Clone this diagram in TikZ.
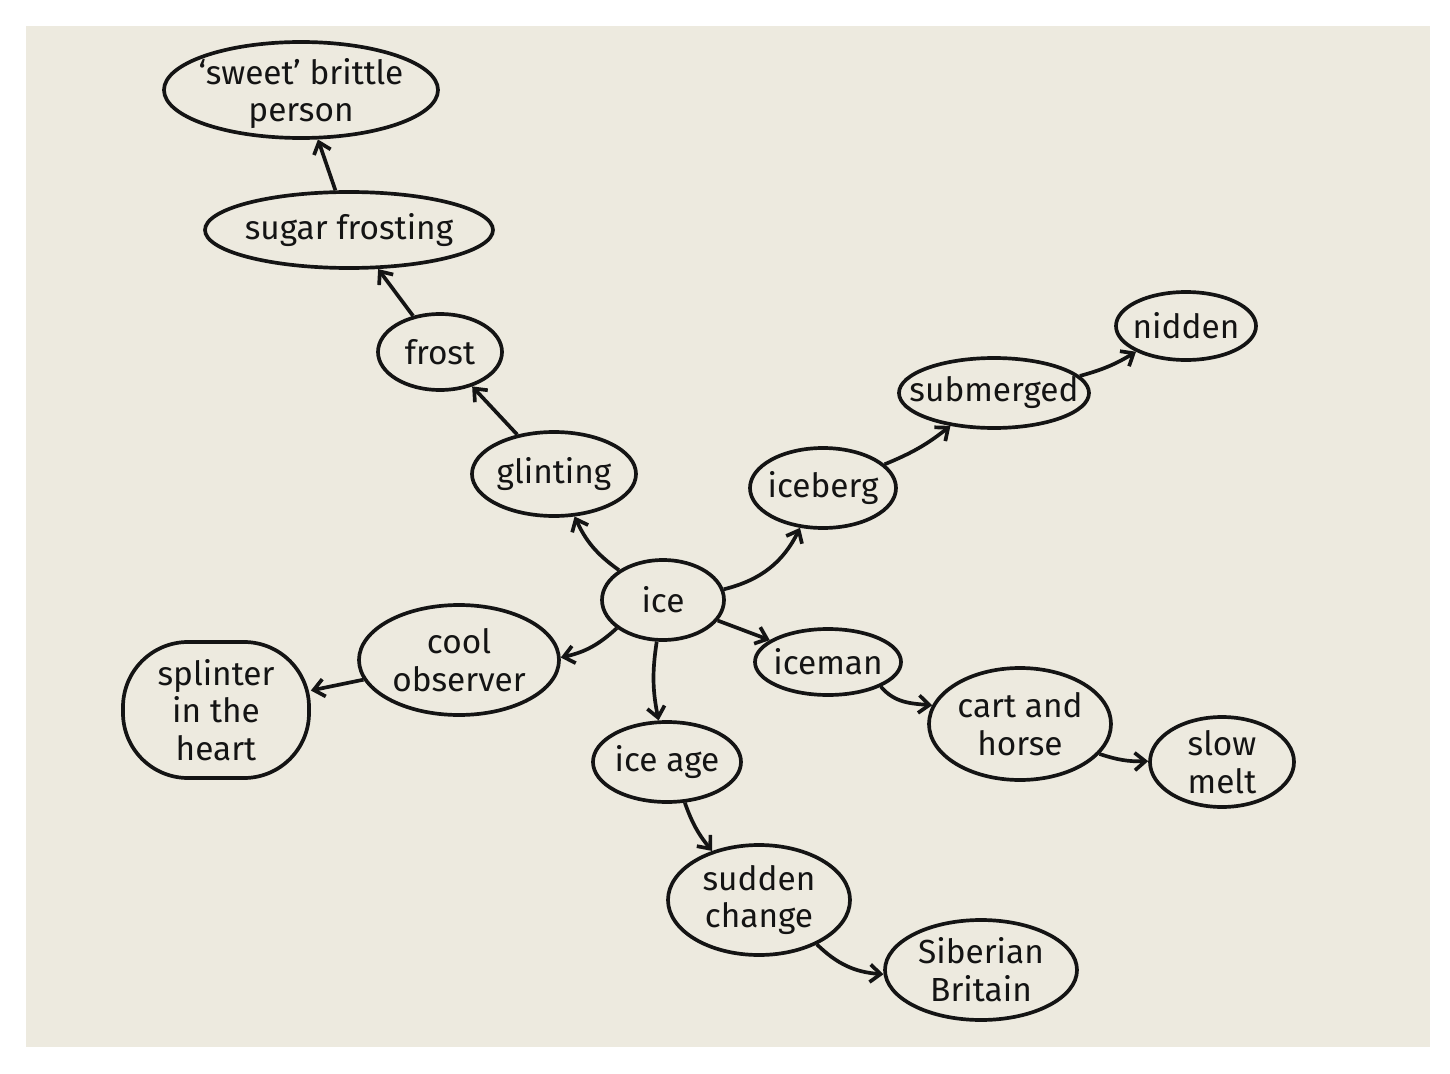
\documentclass[tikz,border=0pt]{standalone}
\usepackage{fontspec}
\setmainfont{Fira Sans}
\usepackage{xcolor}
\usepackage{tikz}
\usetikzlibrary{shapes.geometric, arrows.meta}
\definecolor{ink}{RGB}{20,20,20}
\definecolor{paper}{RGB}{237,234,223}
\newcommand{\hand}{\fontsize{19}{21.5}\selectfont}

\begin{document}
\begin{tikzpicture}[
  every node/.style={font=\hand},
  bubble/.style={ellipse, draw=ink, line width=2.1pt, inner sep=0pt},
  blob/.style={rectangle, draw=ink, line width=2.1pt, inner sep=0pt,
               rounded corners=1.3cm},
  word/.style={align=center, font=\hand, text=ink, inner sep=0pt},
  link/.style={-{Straight Barb[length=6pt, width=10pt]}, line width=2.1pt,
               draw=ink},
]
\useasboundingbox (0,0) rectangle (29,-21.48);
\fill[paper] (0.52,-0.52) rectangle (28.6,-20.94);

% Centre word
\node[bubble, minimum width=2.44cm, minimum height=1.6cm,
      label={[word]center:ice}] (ice) at (13.26,-12.00) {};

% Upper-left chain
\node[bubble, minimum width=3.28cm, minimum height=1.68cm,
      label={[word]center:glinting}] (glinting) at (11.08,-9.48) {};
\node[bubble, minimum width=2.48cm, minimum height=1.52cm,
      label={[word]center:frost}] (frost) at (8.80,-7.04) {};
\node[bubble, minimum width=5.76cm, minimum height=1.52cm,
      label={[word]center:sugar frosting}] (sugar) at (6.98,-4.60) {};
\node[bubble, minimum width=5.48cm, minimum height=1.92cm,
      label={[word, yshift=-2pt]center:{‘sweet’ brittle\\person}}] (sweet) at (6.02,-1.80) {};

% Upper-right chain
\node[bubble, minimum width=2.92cm, minimum height=1.6cm,
      label={[word]center:iceberg}] (iceberg) at (16.46,-9.76) {};
\node[bubble, minimum width=3.8cm, minimum height=1.4cm,
      label={[word]center:submerged}] (submerged) at (19.88,-7.86) {};
\node[bubble, minimum width=2.8cm, minimum height=1.36cm,
      label={[word]center:nidden}] (nidden) at (23.72,-6.52) {};

% Left branch
\node[bubble, minimum width=4.0cm, minimum height=2.2cm,
      label={[word]center:{cool\\observer}}] (cool) at (9.18,-13.20) {};
\node[blob, minimum width=3.72cm, minimum height=2.72cm,
      label={[word]center:{splinter\\in the\\heart}}] (splinter) at (4.32,-14.20) {};

% Right branch
\node[bubble, minimum width=2.92cm, minimum height=1.32cm,
      label={[word]center:iceman}] (iceman) at (16.56,-13.24) {};
\node[bubble, minimum width=3.64cm, minimum height=2.24cm,
      label={[word]center:{cart and\\horse}}] (cart) at (20.40,-14.48) {};
\node[bubble, minimum width=2.88cm, minimum height=1.8cm,
      label={[word]center:{slow\\melt}}] (slow) at (24.44,-15.24) {};

% Lower branch
\node[bubble, minimum width=2.96cm, minimum height=1.6cm,
      label={[word]center:ice age}] (iceage) at (13.34,-15.24) {};
\node[bubble, minimum width=3.64cm, minimum height=2.2cm,
      label={[word]center:{sudden\\change}}] (sudden) at (15.18,-18.00) {};
\node[bubble, minimum width=3.84cm, minimum height=2.0cm,
      label={[word]center:{Siberian\\Britain}}] (siberian) at (19.62,-19.40) {};

% Links
\draw[link] (ice) to[bend left=15] (glinting);
\draw[link] (glinting) -- (frost);
\draw[link] (frost) -- (sugar);
\draw[link] (sugar) -- (sweet);
\draw[link] (ice) to[bend right=25] (iceberg);
\draw[link] (iceberg) to[bend right=8] (submerged);
\draw[link] (submerged) to[bend right=8] (nidden);
\draw[link] (ice) to[bend left=15] (cool);
\draw[link] (cool) -- (splinter);
\draw[link] (ice) -- (iceman);
\draw[link] (iceman.-25) to[out=-50, in=175] (cart.168);
\draw[link] (cart) to[bend right=10] (slow);
\draw[link] (ice) to[bend right=10] (iceage);
\draw[link] (iceage) to[bend right=10] (sudden);
\draw[link] (sudden) to[bend right=20] (siberian);

\end{tikzpicture}
\end{document}
